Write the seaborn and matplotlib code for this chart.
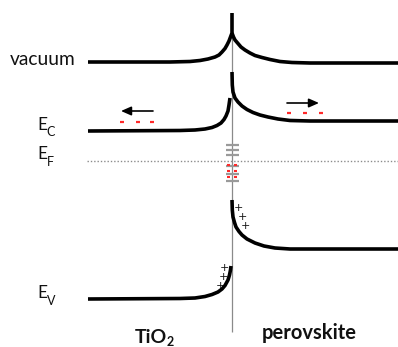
import matplotlib
matplotlib.use("Agg")
import matplotlib.pyplot as plt
import seaborn as sns
import pandas as pd

sns.set_theme(style="white")
plt.rcParams['font.family'] = ['Lato', 'DejaVu Sans']

# ---- band curves (pixel space, y downwards) ----
vac_left_x = [88, 170, 190, 200, 208, 215, 219, 222, 225, 227, 229, 230.5, 232, 232]
vac_left_y = [62, 62, 61.5, 60.5, 59, 57, 55, 52, 48.5, 45, 41, 37, 33, 13]
vac_right_x = [232, 233.5, 235, 238, 241, 245, 250, 255, 262, 270, 280, 292, 310, 398]
vac_right_y = [33, 37, 40, 43.5, 47, 50, 53, 55.5, 57.5, 59.5, 61.5, 62.5, 63, 63]

ec_left_x = [88, 180, 195, 205, 212, 217, 221, 224, 226, 228, 229, 230]
ec_left_y = [131, 130.5, 130, 129, 127.5, 125.5, 123, 119.5, 116, 111, 105, 98]
ec_right_x = [232, 232.3, 233, 235, 238, 242, 247, 253, 260, 268, 278, 290, 310, 398]
ec_right_y = [72, 85, 92, 98, 102, 106, 109.5, 112.5, 115, 117, 119, 120.5, 121, 121]

ev_left_x = [88, 180, 195, 205, 212, 218, 222, 225, 228, 229.5, 230.5, 231]
ev_left_y = [299, 298.5, 298, 296.5, 294.5, 292, 289, 285.5, 280, 275, 270, 266]
ev_right_x = [232, 232.3, 233, 234.5, 236, 239, 242, 247, 255, 264, 275, 290, 398]
ev_right_y = [200, 210, 217, 222.5, 227, 231.5, 235, 239, 243, 246, 248, 249, 249]

fermi_y = 161
fermi_x = [87, 398]
interface_x = 232
interface_y = [13, 332]

trap_y = [145, 150, 155, 166, 173.5, 181]
trap_x = [226, 239]
trap_elec_y = [165, 170.5, 177]
trap_elec_x = [228.5, 235.5]

ec_elec_left_x = [122, 138, 152]
ec_elec_left_y = 122
ec_elec_right_x = [289, 305, 321]
ec_elec_right_y = 113

holes_pv = [(238, 208), (242, 217), (245, 226)]
holes_ti = [(224, 268), (223, 277), (220, 286)]

fig = plt.figure(figsize=(3.98, 3.47), dpi=100)
ax = fig.add_axes([0, 0, 1, 1])

# interface line
ax.plot([interface_x, interface_x], interface_y, color='#8a8a8a', lw=0.9, zorder=1)

# Fermi level
ax.plot(fermi_x, [fermi_y, fermi_y], color='#8c8c8c', lw=1.0,
        linestyle=(0, (1, 1.4)), zorder=1)

# trap states
for ty in trap_y:
    ax.plot(trap_x, [ty, ty], color='#9a9a9a', lw=1.6, solid_capstyle='butt', zorder=2)
for ty in trap_elec_y:
    for tx in trap_elec_x:
        ax.plot([tx - 1.8, tx + 1.8], [ty, ty], color='#ff2a2a', lw=1.5,
                solid_capstyle='butt', zorder=3)

# bands
for xs, ys in [(vac_left_x, vac_left_y), (vac_right_x, vac_right_y),
               (ec_left_x, ec_left_y), (ec_right_x, ec_right_y),
               (ev_left_x, ev_left_y), (ev_right_x, ev_right_y)]:
    df = pd.DataFrame({'x': xs, 'y': ys})
    sns.lineplot(data=df, x='x', y='y', sort=False, ax=ax, color='black',
                 lw=2.6, estimator=None, zorder=4)
for line in ax.lines:
    line.set_solid_joinstyle('round')
    line.set_solid_capstyle('butt')
ax.set_xlim(0, 398)
ax.set_ylim(347, 0)
ax.axis('off')

# electrons near Ec
for ex in ec_elec_left_x:
    ax.plot([ex - 2.2, ex + 2.2], [ec_elec_left_y] * 2, color='#ff2a2a', lw=1.6,
            solid_capstyle='butt')
for ex in ec_elec_right_x:
    ax.plot([ex - 2.2, ex + 2.2], [ec_elec_right_y] * 2, color='#ff2a2a', lw=1.6,
            solid_capstyle='butt')

# arrows
ax.annotate('', xy=(121, 111), xytext=(153, 111),
            arrowprops=dict(arrowstyle='-|>,head_length=0.5,head_width=0.22',
                            color='black', lw=1.2, shrinkA=0, shrinkB=0))
ax.annotate('', xy=(319, 103), xytext=(287, 103),
            arrowprops=dict(arrowstyle='-|>,head_length=0.5,head_width=0.22',
                            color='black', lw=1.2, shrinkA=0, shrinkB=0))

# holes
for hx, hy in holes_pv + holes_ti:
    ax.text(hx, hy, '+', fontsize=8, ha='center', va='center', color='#111111',
            family=['DejaVu Sans'])

# labels
ax.text(10, 59, 'vacuum', fontsize=13.8, ha='left', va='center', color='#111111')
for ly, sub, sy in [(125, 'C', 132), (154, 'F', 162), (293, 'V', 301)]:
    ax.text(37, ly, 'E', fontsize=12.5, ha='left', va='center', color='#111111')
    ax.text(46.5, sy, sub, fontsize=9, ha='left', va='center', color='#111111')

ax.text(135, 343, 'TiO', fontsize=14, fontweight='bold', ha='left', va='baseline',
        color='#111111')
ax.text(166.5, 345.5, '2', fontsize=9, fontweight='bold', ha='left', va='baseline',
        color='#111111')
ax.text(262, 333, 'perovskite', fontsize=14.5, fontweight='bold', ha='left',
        va='center', color='#111111')

fig.savefig('out.png', dpi=100)
